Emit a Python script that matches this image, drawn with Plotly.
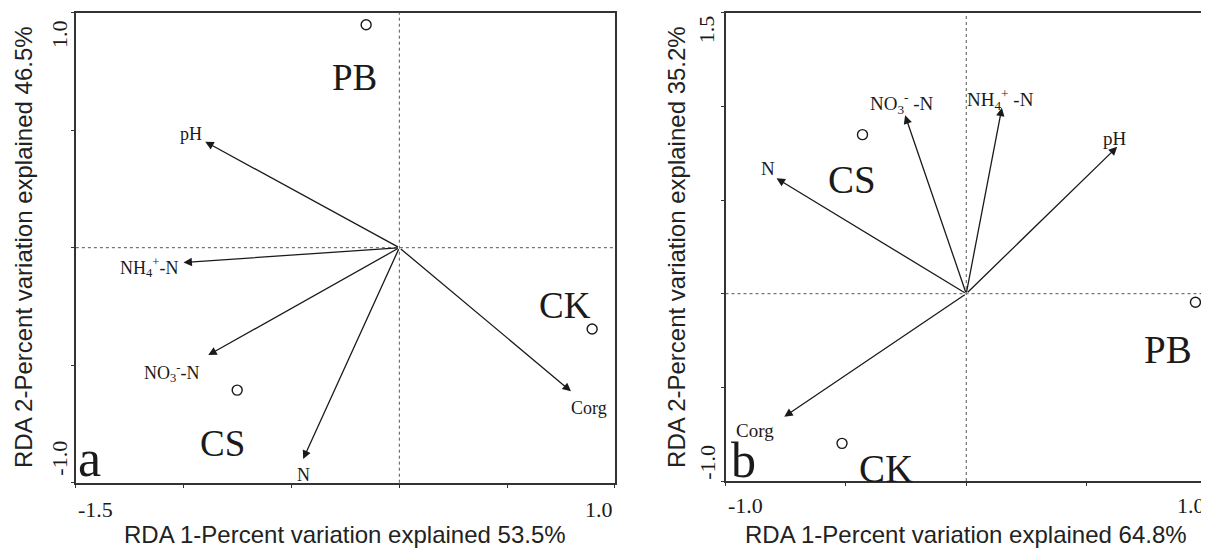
import plotly.graph_objects as go

# ---------------- data ----------------
sites = ["PB", "CK", "CS"]
# panel a (RDA1 53.5%, RDA2 46.5%)
site_x_a = [-0.154, 0.894, -0.752]
site_y_a = [0.949, -0.346, -0.606]
site_lab_x_a = [-0.208, 0.769, -0.819]
site_lab_y_a = [0.723, -0.245, -0.832]

env_a = ["pH", "NH<sub>4</sub><sup>+</sup>-N", "NO<sub>3</sub><sup>-</sup>-N", "N", "Corg"]
env_x_a = [-0.900, -1.001, -0.886, -0.446, 0.796]
env_y_a = [0.451, -0.063, -0.457, -0.899, -0.611]
env_lab_x_a = [-0.964, -1.162, -1.052, -0.446, 0.880]
env_lab_y_a = [0.483, -0.085, -0.531, -0.966, -0.680]

# panel b (RDA1 64.8%, RDA2 35.2%)
site_x_b = [0.952, -0.516, -0.431]
site_y_b = [-0.046, -0.799, 0.849]
site_lab_x_b = [0.836, -0.335, -0.476]
site_lab_y_b = [-0.299, -0.933, 0.612]

env_b = ["N", "NO<sub>3</sub><sup>-</sup> -N", "NH<sub>4</sub><sup>+</sup> -N", "pH", "Corg"]
env_x_b = [-0.788, -0.254, 0.148, 0.627, -0.756]
env_y_b = [0.616, 0.952, 0.993, 0.784, -0.657]
env_lab_x_b = [-0.822, -0.266, 0.144, 0.616, -0.879]
env_lab_y_b = [0.668, 1.014, 1.036, 0.826, -0.732]

xticks_a = [-1.5, -1.0, -0.5, 0.0, 0.5, 1.0]
yticks_a = [-1.0, -0.5, 0.0, 0.5, 1.0]
xticks_b = [-1.0, -0.5, 0.0, 0.5, 1.0]
yticks_b = [-1.0, -0.5, 0.0, 0.5, 1.0, 1.5]
xrange_a, yrange_a = [-1.5, 1.0], [-1.0, 1.0]
xrange_b, yrange_b = [-1.0, 1.0], [-1.0, 1.5]
xtitle_a = "RDA 1-Percent variation explained 53.5%"
ytitle_a = "RDA 2-Percent variation explained 46.5%"
xtitle_b = "RDA 1-Percent variation explained 64.8%"
ytitle_b = "RDA 2-Percent variation explained 35.2%"

SERIF = "Liberation Serif, Times New Roman, serif"
SANS = "Liberation Sans, Arial, sans-serif"
INK = "#1a1a1a"

# page body has an 8px margin: size the figure to fit the window
OFF = 8
W, H = 1209 - OFF, 548 - OFF


def px_x(p):  # screen px -> paper x
    return (p - OFF) / W


def px_y(p):  # screen px (from top) -> paper y
    return 1 - (p - OFF) / H


fig = go.Figure()

fig.add_trace(go.Scatter(x=site_x_a, y=site_y_a, mode="markers", xaxis="x", yaxis="y",
                         marker=dict(symbol="circle-open", size=10, color=INK, line=dict(width=1.4)),
                         showlegend=False, hoverinfo="skip"))
fig.add_trace(go.Scatter(x=site_x_b, y=site_y_b, mode="markers", xaxis="x2", yaxis="y2",
                         marker=dict(symbol="circle-open", size=10, color=INK, line=dict(width=1.4)),
                         showlegend=False, hoverinfo="skip"))

ann = []


def panel(xr, yr, env, ex, ey, elx, ely, labsize, sites_, slx, sly, bigsize):
    for name, x, y in zip(env, ex, ey):
        ann.append(dict(x=x, y=y, ax=0, ay=0, xref=xr, yref=yr, axref=xr, ayref=yr,
                        showarrow=True, arrowhead=2, arrowsize=1.3, arrowwidth=1.3,
                        arrowcolor=INK, text=""))
    for name, x, y in zip(env, elx, ely):
        ann.append(dict(x=x, y=y, xref=xr, yref=yr, text=name, showarrow=False,
                        xanchor="center", yanchor="middle",
                        font=dict(family=SERIF, size=labsize, color=INK)))
    for name, x, y in zip(sites_, slx, sly):
        ann.append(dict(x=x, y=y, xref=xr, yref=yr, text=name, showarrow=False,
                        xanchor="center", yanchor="middle",
                        font=dict(family=SERIF, size=bigsize, color=INK)))


panel("x", "y", env_a, env_x_a, env_y_a, env_lab_x_a, env_lab_y_a, 18,
      sites, site_lab_x_a, site_lab_y_a, 37)
panel("x2", "y2", env_b, env_x_b, env_y_b, env_lab_x_b, env_lab_y_b, 19,
      sites, site_lab_x_b, site_lab_y_b, 39)

# panel letters
ann.append(dict(x=-1.435, y=-0.896, xref="x", yref="y", text="a", showarrow=False,
                xanchor="center", yanchor="middle", font=dict(family=SERIF, size=52, color=INK)))
ann.append(dict(x=-0.926, y=-0.888, xref="x2", yref="y2", text="b", showarrow=False,
                xanchor="center", yanchor="middle", font=dict(family=SERIF, size=50, color=INK)))

# end tick labels
TICKF = dict(family=SERIF, size=22, color=INK)
ann += [
    dict(x=xrange_a[0], y=px_y(509), xref="x", yref="paper", text=f"{xrange_a[0]:.1f}",
         xanchor="left", yanchor="middle", showarrow=False, font=TICKF),
    dict(x=xrange_a[1], y=px_y(509), xref="x", yref="paper", text=f"{xrange_a[1]:.1f}",
         xanchor="right", yanchor="middle", showarrow=False, font=TICKF),
    dict(x=xrange_b[0], y=px_y(505), xref="x2", yref="paper", text=f"{xrange_b[0]:.1f}",
         xanchor="left", yanchor="middle", showarrow=False, font=TICKF),
    dict(x=xrange_b[1], y=px_y(505), xref="x2", yref="paper", text=f"{xrange_b[1]:.1f}",
         xanchor="right", yanchor="middle", showarrow=False, font=TICKF),
    dict(x=px_x(59.5), y=0.911, xref="paper", yref="y", text=f"{yrange_a[1]:.1f}",
         textangle=-90, xanchor="center", yanchor="middle", showarrow=False, font=TICKF),
    dict(x=px_x(59.5), y=-0.896, xref="paper", yref="y", text=f"{yrange_a[0]:.1f}",
         textangle=-90, xanchor="center", yanchor="middle", showarrow=False, font=TICKF),
    dict(x=px_x(708.5), y=1.413, xref="paper", yref="y2", text=f"{yrange_b[1]:.1f}",
         textangle=-90, xanchor="center", yanchor="middle", showarrow=False, font=TICKF),
    dict(x=px_x(708.5), y=-0.901, xref="paper", yref="y2", text=f"{yrange_b[0]:.1f}",
         textangle=-90, xanchor="center", yanchor="middle", showarrow=False, font=TICKF),
]

# axis titles
TF = dict(family=SANS, size=24, color="#222222")
ann += [
    dict(x=px_x(346), y=px_y(534), xref="paper", yref="paper", text=xtitle_a,
         xanchor="center", yanchor="middle", showarrow=False, font=TF),
    dict(x=px_x(968), y=px_y(534), xref="paper", yref="paper", text=xtitle_b,
         xanchor="center", yanchor="middle", showarrow=False, font=TF),
    dict(x=px_x(23), y=px_y(247), xref="paper", yref="paper", text=ytitle_a, textangle=-90,
         xanchor="center", yanchor="middle", showarrow=False, font=TF),
    dict(x=px_x(677), y=px_y(247), xref="paper", yref="paper", text=ytitle_b, textangle=-90,
         xanchor="center", yanchor="middle", showarrow=False, font=TF),
]

# dotted zero lines
shapes = []
for xr, yr in (("x", "y"), ("x2", "y2")):
    shapes.append(dict(type="line", xref=xr, yref=yr + " domain", x0=0, x1=0, y0=0, y1=1,
                       line=dict(color="#555555", width=1, dash="dot")))
    shapes.append(dict(type="line", xref=xr + " domain", yref=yr, x0=0, x1=1, y0=0, y1=0,
                       line=dict(color="#555555", width=1, dash="dot")))

AX = dict(showgrid=False, zeroline=False, showline=True, linecolor="#333333", linewidth=1.6,
          mirror=True, ticks="outside", ticklen=3, tickwidth=1.2, tickcolor="#333333",
          showticklabels=False, fixedrange=True)

fig.update_layout(
    width=W, height=H, margin=dict(l=0, r=0, t=0, b=0),
    paper_bgcolor="white", plot_bgcolor="white", showlegend=False,
    xaxis=dict(AX, domain=[px_x(76), px_x(616)], range=xrange_a, tickvals=xticks_a, anchor="y"),
    yaxis=dict(AX, domain=[px_y(482.7), px_y(12.7)], range=yrange_a, tickvals=yticks_a, anchor="x"),
    xaxis2=dict(AX, domain=[px_x(726.7), 1.0], range=xrange_b, tickvals=xticks_b, anchor="y2"),
    yaxis2=dict(AX, domain=[px_y(481), px_y(12.7)], range=yrange_b, tickvals=yticks_b, anchor="x2"),
    annotations=ann, shapes=shapes,
)

fig.write_html("out.html")
